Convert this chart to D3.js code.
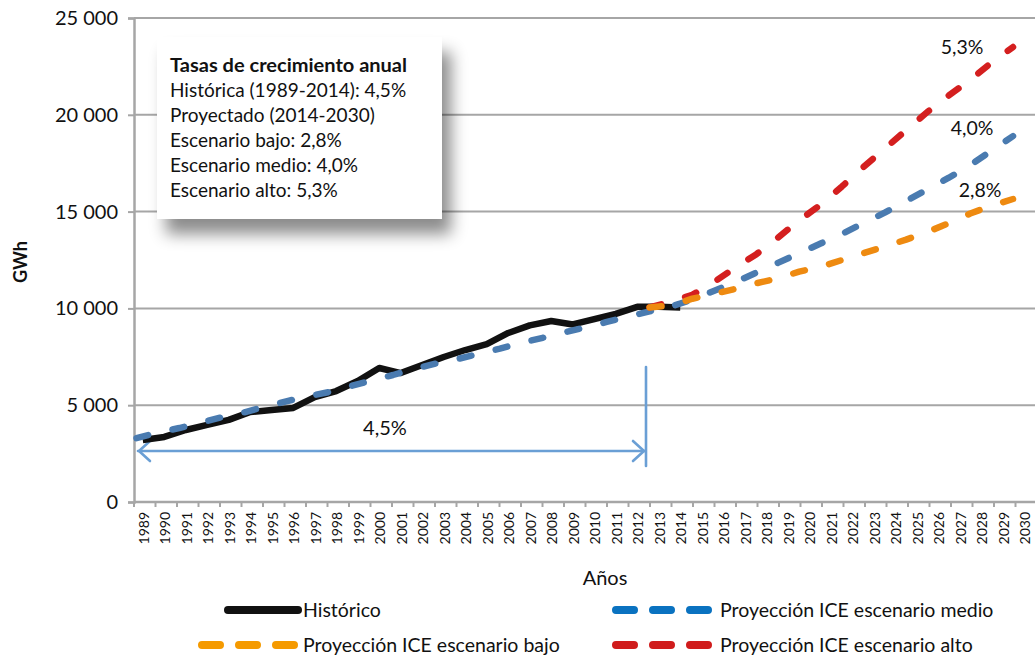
<!DOCTYPE html>
<html><head><meta charset="utf-8">
<script src="https://cdn.jsdelivr.net/npm/d3@7"></script>
<style>
body{margin:0;background:#fff;}
svg{display:block;font-family:Lato,"Open Sans",sans-serif;}
</style></head>
<body><svg id="c" width="1035" height="655"></svg>
<script>
// ---- data ----
const years = d3.range(1989, 2031);
const histYears = d3.range(1989, 2015);
const historico = [3200,3360,3720,3980,4240,4650,4750,4860,5420,5730,6250,6920,6660,7080,7490,7850,8150,8730,9120,9350,9170,9450,9720,10080,10080,10050];
const medioYears = d3.range(1989, 2031);
const medio = [3300,3580,3820,4100,4380,4620,4920,5200,5450,5680,5980,6280,6560,6880,7150,7380,7650,7920,8220,8480,8760,9020,9300,9580,9850,10100,10450,10900,11350,11850,12350,12850,13350,13850,14400,14950,15550,16150,16750,17400,18150,18900];
const projYears = d3.range(2013, 2031);
const bajo = [10050,10150,10500,10750,11000,11300,11550,11900,12150,12500,12850,13200,13550,13950,14400,14900,15300,15650];
const alto = [10050,10350,10700,11350,12100,12800,13650,14550,15350,16300,17300,18250,19200,20150,21000,21800,22700,23500];
const yTicks = [0,5000,10000,15000,20000,25000];
const boxLines = ["Tasas de crecimiento anual","Histórica (1989-2014): 4,5%","Proyectado (2014-2030)","Escenario bajo: 2,8%","Escenario medio: 4,0%","Escenario alto: 5,3%"];
const endLabels = [{t:"5,3%", s:alto},{t:"4,0%", s:medio},{t:"2,8%", s:bajo}];
const legendItems = ["Histórico","Proyección ICE escenario medio","Proyección ICE escenario bajo","Proyección ICE escenario alto"];

const C = {black:"#111111", blue:"#4a7bb0", orange:"#ee8a10", red:"#d41f1f",
           lblue:"#0a72c0", lorange:"#f59a00", lred:"#d01c1c", grid:"#a6a6a6", arrow:"#6a9fd5"};

const svg = d3.select("#c");
const L = 134, R = 1035, T = 18, B = 502;
const y = d3.scaleLinear().domain([0,25000]).range([B, T]);
const xb = d3.scaleBand().domain(years).range([132, 1035]).padding(0);
const xc = y0 => xb(y0) + xb.bandwidth()/2;
const xl = d3.scaleLinear().domain([1989, 2030]).range([136.5, 1013]);

// shadow filter
const defs = svg.append("defs");
const f = defs.append("filter").attr("id","sh").attr("x","-20%").attr("y","-20%").attr("width","150%").attr("height","160%");
f.append("feDropShadow").attr("dx",9).attr("dy",15).attr("stdDeviation",8).attr("flood-color","#000").attr("flood-opacity",0.45);

// gridlines
svg.append("g").selectAll("line").data(yTicks).join("line")
  .attr("x1", L).attr("x2", R).attr("y1", d=>y(d)).attr("y2", d=>y(d))
  .attr("stroke", C.grid).attr("stroke-width", 2);

// y axis
const yAxis = d3.axisLeft(y).tickValues(yTicks).tickSize(6).tickPadding(10);
const gy = svg.append("g").attr("transform", `translate(${L},0)`).call(yAxis);
gy.select(".domain").attr("stroke", C.grid).attr("stroke-width", 2.5);
gy.selectAll(".tick line").attr("stroke", C.grid).attr("stroke-width", 2);
gy.selectAll("text").attr("font-size", 20).attr("fill", "#111").attr("font-family","Lato")
  .text(d => d === 0 ? "0" : (d/1000) + " 000");

// x axis
const gx = svg.append("g").attr("transform", `translate(0,${B})`);
gx.append("line").attr("x1", L).attr("x2", R).attr("stroke", C.grid).attr("stroke-width", 2.5);
gx.selectAll("line.t").data(years).join("line").attr("class","t")
  .attr("x1", d=>xb(d)+2).attr("x2", d=>xb(d)+2).attr("y1",0).attr("y2",5)
  .attr("stroke", C.grid).attr("stroke-width", 2);
gx.selectAll("text").data(years).join("text")
  .attr("transform", d => `translate(${xc(d)+6},10) rotate(-90)`)
  .attr("text-anchor","end").attr("font-size", 14).attr("fill","#111")
  .text(d => d);

// axis titles
svg.append("text").attr("transform","translate(27,262) rotate(-90)").attr("text-anchor","middle")
  .attr("font-size",18).attr("font-weight","bold").attr("fill","#111").text("GWh");
svg.append("text").attr("x",605).attr("y",585).attr("text-anchor","middle")
  .attr("font-size",20).attr("fill","#111").text("Años");

// arrow annotation
const ag = svg.append("g").attr("stroke", C.arrow).attr("stroke-width", 2.6).attr("fill","none").attr("stroke-linecap","round");
ag.append("line").attr("x1", 138).attr("x2", 645).attr("y1", 451).attr("y2", 451);
ag.append("polyline").attr("points", "150,441 139,451 150,461");
ag.append("polyline").attr("points", "633,441 644,451 633,461");
ag.append("line").attr("x1", 646).attr("x2", 646).attr("y1", 367).attr("y2", 466);
svg.append("text").attr("x", 385).attr("y", 435).attr("text-anchor","middle").attr("font-size",20).attr("fill","#111").text("4,5%");

// lines
const lineB = d3.line().x((d,i)=>xc(histYears[i])).y(d=>y(d));
svg.append("path").datum(historico).attr("d", lineB).attr("fill","none")
  .attr("stroke", C.black).attr("stroke-width", 6.5).attr("stroke-linejoin","round");

function dashed(ys, vals, color){
  const ln = d3.line().x((d,i)=>xl(ys[i])).y(d=>y(d));
  svg.append("path").datum(vals).attr("d", ln).attr("fill","none")
    .attr("stroke", color).attr("stroke-width", 6.5).attr("stroke-linecap","round")
    .attr("stroke-linejoin","round").attr("stroke-dasharray","12,25");
}
dashed(medioYears, medio, C.blue);
dashed(projYears, alto, C.red);
dashed(projYears, bajo, C.orange);

// end labels
const endPos = [[962,54],[972,135],[980,197]];
svg.append("g").selectAll("text").data(endLabels).join("text")
  .attr("x",(d,i)=>endPos[i][0]).attr("y",(d,i)=>endPos[i][1]).attr("text-anchor","middle")
  .attr("font-size",19.5).attr("fill","#111").text(d=>d.t);

// info box
svg.append("rect").attr("x",157).attr("y",37).attr("width",285).attr("height",182)
  .attr("fill","#fff").attr("filter","url(#sh)");
const bt = svg.append("g").selectAll("text").data(boxLines).join("text")
  .attr("x",170).attr("y",(d,i)=>72+i*25).attr("font-size",19)
  .attr("font-weight",(d,i)=>i===0?"bold":"normal").attr("fill","#111").text(d=>d);
bt.filter((d,i)=>i===0).attr("font-size",19).attr("textLength",237).attr("lengthAdjust","spacingAndGlyphs");

// legend
const lg = svg.append("g");
const legPos = [[228,298,610,C.black,true],[616,708,610,C.lblue,false],[202,294,645,C.lorange,false],[616,708,645,C.lred,false]];
legPos.forEach((p,i)=>{
  lg.append("line").attr("x1",p[0]).attr("x2",p[1]).attr("y1",p[2]).attr("y2",p[2])
    .attr("stroke",p[3]).attr("stroke-width",8).attr("stroke-linecap","round")
    .attr("stroke-dasharray", p[4] ? null : "18,19");
  lg.append("text").attr("x", i%2===0 ? 303 : 720).attr("y", p[2]+7)
    .attr("font-size",19.5).attr("fill","#111").text(legendItems[i]);
});
</script></body></html>
